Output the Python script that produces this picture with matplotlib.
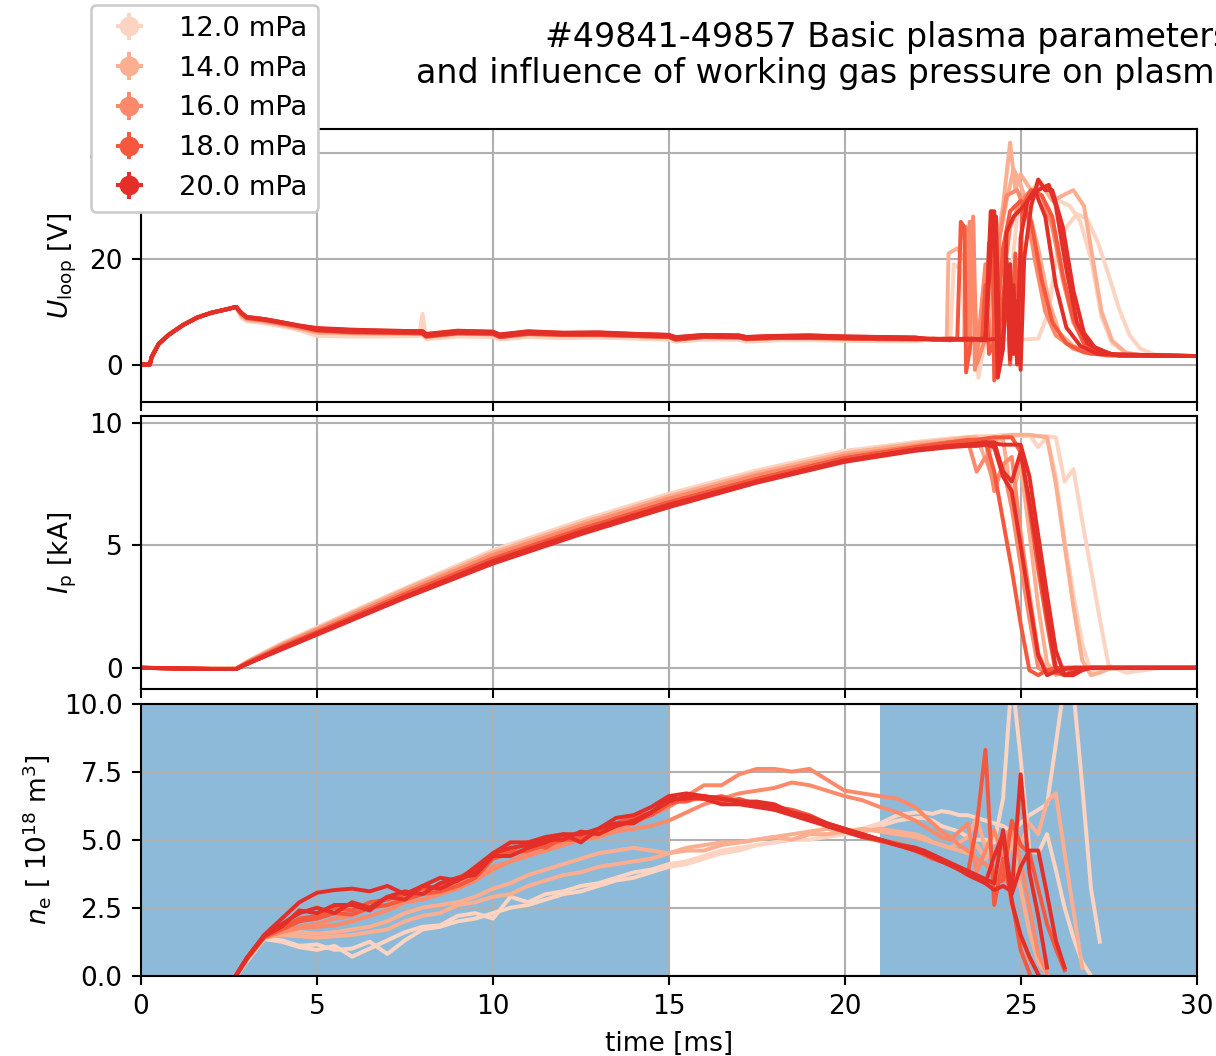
import numpy as np
import matplotlib
matplotlib.use('Agg')
from matplotlib import pyplot as plt

nan = np.nan

# pressure of each plotted shot [mPa]
pressure = [12, 12, 14, 14, 16, 16, 18, 18, 20, 20, 20]
levels = [12.0, 14.0, 16.0, 18.0, 20.0]
level_colors = ['#fdd3c1', '#fcae91', '#fc8a6a', '#f6583e', '#e32f27']

# ---- loop voltage [V] ----
u_t_early = [0.0, 0.25, 0.3, 0.5, 0.8, 1.2, 1.6, 2.0, 2.4, 2.7, 2.85, 3.0, 3.5, 4.0, 4.5, 5.0, 6.0, 7.0,
             7.9, 8.0, 8.1, 9.0, 10.0, 10.2, 11.0, 12.0, 13.0, 14.0, 15.0, 15.2, 16.0, 17.0, 17.2, 18.0,
             19.0, 20.0, 21.0, 22.0]
u_early = [
    [0, 0, 1.4, 3.9, 5.7, 7.5, 8.9, 9.8, 10.4, 10.8, 8.9, 8.2, 7.8, 7.2, 6.5, 5.4, 5.3, 5.3, 5.4, 9.6, 4.8, 5.3, 5.2, 4.7, 5.2, 5.0, 5.1, 4.9, 4.7, 4.3, 4.7, 4.7, 4.3, 4.6, 4.6, 4.5, 4.4, 4.4],
    [0, 0, 1.4, 3.9, 5.7, 7.5, 8.9, 9.8, 10.4, 10.8, 9.0, 8.3, 7.9, 7.3, 6.6, 5.5, 5.4, 5.5, 5.6, 5.5, 4.8, 5.5, 5.3, 4.9, 5.4, 5.1, 5.3, 5.0, 4.8, 4.4, 4.9, 4.7, 4.5, 4.6, 4.8, 4.6, 4.6, 4.5],
    [0, 0, 1.4, 3.9, 5.7, 7.5, 8.9, 9.8, 10.4, 10.9, 9.2, 8.5, 8.1, 7.5, 6.8, 6.0, 5.9, 5.8, 5.8, 5.8, 5.2, 5.8, 5.7, 5.1, 5.7, 5.5, 5.5, 5.4, 5.2, 4.7, 5.2, 5.1, 4.8, 5.0, 5.0, 4.9, 4.8, 4.7],
    [0, 0, 1.4, 3.9, 5.7, 7.5, 8.9, 9.8, 10.4, 10.9, 9.3, 8.6, 8.2, 7.6, 6.9, 6.1, 6.0, 5.9, 5.9, 5.8, 5.2, 5.9, 5.7, 5.2, 5.8, 5.6, 5.6, 5.4, 5.2, 4.7, 5.2, 5.1, 4.8, 5.0, 5.1, 4.9, 4.8, 4.8],
    [0, 0, 1.4, 3.9, 5.7, 7.5, 8.9, 9.8, 10.4, 10.9, 9.5, 8.7, 8.3, 7.7, 7.0, 6.3, 6.0, 6.0, 5.9, 5.9, 5.3, 5.9, 5.8, 5.2, 5.8, 5.6, 5.6, 5.4, 5.2, 4.7, 5.2, 5.1, 4.8, 5.0, 5.0, 4.9, 4.8, 4.8],
    [0, 0, 1.4, 3.9, 5.7, 7.5, 8.9, 9.8, 10.4, 10.9, 9.6, 8.8, 8.4, 7.8, 7.1, 6.4, 6.1, 6.0, 6.0, 5.9, 5.3, 6.0, 5.8, 5.3, 5.9, 5.6, 5.7, 5.5, 5.3, 4.8, 5.3, 5.2, 4.9, 5.1, 5.1, 5.0, 4.9, 4.8],
    [0, 0, 1.4, 3.9, 5.7, 7.5, 8.9, 9.8, 10.4, 10.9, 9.7, 8.8, 8.4, 7.8, 7.2, 6.5, 6.1, 6.0, 5.9, 5.9, 5.3, 5.9, 5.8, 5.2, 5.8, 5.6, 5.6, 5.4, 5.2, 4.7, 5.2, 5.1, 4.8, 5.0, 5.1, 4.9, 4.8, 4.8],
    [0, 0, 1.4, 3.9, 5.7, 7.5, 8.9, 9.8, 10.4, 10.9, 9.7, 8.9, 8.5, 7.9, 7.3, 6.5, 6.2, 6.1, 6.0, 6.0, 5.4, 6.0, 5.9, 5.3, 5.9, 5.7, 5.7, 5.5, 5.3, 4.8, 5.3, 5.2, 4.9, 5.1, 5.1, 5.0, 4.9, 4.8],
    [0, 0, 1.4, 3.9, 5.7, 7.5, 8.9, 9.8, 10.4, 10.9, 9.8, 9.0, 8.6, 8.0, 7.3, 6.8, 6.5, 6.4, 6.3, 6.3, 5.7, 6.3, 6.2, 5.6, 6.2, 6.0, 6.0, 5.8, 5.6, 5.1, 5.6, 5.5, 5.2, 5.4, 5.5, 5.3, 5.2, 5.1],
    [0, 0, 1.4, 3.9, 5.7, 7.5, 8.9, 9.8, 10.4, 10.9, 9.8, 9.0, 8.6, 8.0, 7.4, 6.9, 6.6, 6.4, 6.3, 6.3, 5.8, 6.4, 6.2, 5.7, 6.3, 6.0, 6.1, 5.8, 5.6, 5.2, 5.6, 5.5, 5.2, 5.4, 5.5, 5.3, 5.2, 5.1],
    [0, 0, 1.4, 3.9, 5.7, 7.5, 8.9, 9.8, 10.4, 10.9, 9.7, 8.9, 8.5, 7.9, 7.3, 6.5, 6.2, 6.1, 6.0, 5.9, 5.4, 6.0, 5.9, 5.3, 5.9, 5.7, 5.7, 5.5, 5.3, 4.8, 5.3, 5.2, 4.9, 5.1, 5.1, 5.0, 4.9, 4.8],
]
# end of discharge, each shot on its own time points
u_t_late = [
    [22.5, 23.0, 23.5, 24.0, 24.5, 25.0, 25.5, 25.8, 26.0, 26.3, 26.6, 26.9, 27.2, 27.5, 27.8, 28.1, 28.4, 28.8, 29.5, 30.0],
    [22.5, 23.0, 23.1, 23.3, 23.45, 23.6, 23.8, 24.0, 24.3, 24.6, 24.9, 25.2, 25.5, 25.8, 26.1, 26.4, 26.7, 27.0, 27.3, 27.6, 28.0, 28.5, 30.0],
    [22.5, 23.0, 23.5, 24.0, 24.3, 24.5, 24.7, 24.85, 25.0, 25.3, 25.6, 25.9, 26.2, 26.5, 26.8, 27.0, 27.3, 27.6, 28.0, 28.5, 30.0],
    [22.5, 22.9, 22.95, 23.2, 23.4, 23.5, 23.6, 23.8, 24.0, 24.2, 24.4, 24.6, 24.8, 25.0, 25.2, 25.5, 25.8, 26.1, 26.5, 27.0, 27.5, 30.0],
    [22.5, 23.0, 23.5, 23.55, 23.65, 23.7, 23.8, 24.0, 24.15, 24.3, 24.4, 24.6, 24.9, 25.2, 25.4, 25.7, 26.0, 26.5, 27.0, 30.0],
    [22.5, 23.0, 23.4, 23.45, 23.55, 23.65, 23.75, 24.0, 24.5, 24.55, 24.7, 25.0, 25.3, 25.6, 25.9, 26.2, 26.5, 26.8, 27.2, 27.8, 30.0],
    [22.5, 23.0, 23.2, 23.3, 23.4, 23.45, 23.6, 23.9, 24.0, 24.1, 24.3, 24.5, 24.7, 25.0, 25.3, 25.6, 25.9, 26.3, 26.8, 27.5, 30.0],
    [22.5, 23.0, 23.5, 24.0, 24.1, 24.2, 24.25, 24.35, 24.6, 24.7, 24.85, 24.95, 25.05, 25.3, 25.6, 25.9, 26.2, 26.5, 26.8, 27.2, 27.8, 30.0],
    [22.5, 23.0, 23.5, 24.0, 24.15, 24.25, 24.35, 24.5, 24.6, 24.7, 24.8, 24.9, 25.0, 25.2, 25.5, 25.8, 26.0, 26.3, 26.6, 26.9, 27.3, 27.8, 30.0],
    [22.5, 23.0, 23.5, 24.0, 24.2, 24.3, 24.4, 24.5, 24.6, 24.8, 25.1, 25.4, 25.7, 26.0, 26.3, 26.7, 27.2, 30.0],
    [22.5, 23.0, 23.5, 24.0, 24.5, 24.7, 24.8, 24.9, 25.0, 25.1, 25.3, 25.5, 25.7, 25.9, 26.2, 26.5, 26.8, 27.1, 27.6, 30.0],
]
u_late = [
    [4.8, 4.7, 4.9, 4.6, 4.8, 4.7, 4.9, 10.0, 20.0, 26.0, 28.5, 27.5, 23.0, 17.0, 10.5, 5.5, 3.0, 1.9, 1.6, 1.6],
    [4.9, 4.8, 19.0, 18.0, 4.0, 12.0, -2.5, 5.0, 4.5, 8.0, 28.0, 31.0, 35.0, 33.0, 31.0, 30.0, 27.0, 20.0, 9.0, 4.0, 2.2, 1.7, 1.6],
    [4.7, 5.0, 4.6, 5.0, 22.0, 30.0, 42.0, 33.0, 36.0, 33.0, 34.0, 31.0, 32.0, 33.0, 30.0, 22.0, 10.0, 4.5, 2.2, 1.7, 1.6],
    [4.8, 4.6, 21.0, 22.0, 20.0, 2.0, 19.0, 3.0, 18.0, 20.0, 24.0, 31.0, 37.0, 34.0, 30.0, 22.0, 12.0, 6.0, 3.5, 2.2, 1.8, 1.6],
    [4.8, 4.6, 4.9, 27.0, 27.0, -1.0, 5.0, 19.0, 3.0, 4.5, 24.0, 32.0, 33.0, 28.0, 20.0, 10.0, 5.5, 3.0, 2.0, 1.6],
    [4.9, 4.7, 4.8, 26.0, 2.0, 28.0, 0.0, 5.0, 4.7, 18.0, 26.0, 31.0, 33.0, 32.0, 26.0, 16.0, 8.0, 4.0, 2.4, 1.7, 1.6],
    [4.8, 4.6, 4.8, 27.0, 26.0, -1.5, 5.0, 4.5, 15.0, 2.0, 5.0, 22.0, 29.0, 31.0, 27.0, 16.0, 8.0, 4.0, 2.3, 1.7, 1.6],
    [4.9, 4.8, 4.6, 4.8, 23.0, 24.0, -3.0, 5.0, 18.0, 0.0, 21.0, 3.0, 30.0, 33.0, 32.0, 28.0, 17.0, 8.5, 4.0, 2.3, 1.7, 1.6],
    [4.8, 4.9, 4.7, 4.9, 29.0, 29.0, -2.5, 3.0, 20.0, 1.0, 15.0, 0.0, 24.0, 31.0, 33.0, 34.0, 30.0, 18.0, 8.0, 4.0, 2.4, 1.7, 1.6],
    [4.7, 4.8, 4.9, 4.6, 27.0, 28.0, 1.0, 4.0, 25.0, 28.0, 30.0, 33.0, 28.0, 15.0, 7.0, 3.5, 2.0, 1.6],
    [4.8, 4.7, 4.8, 4.7, 4.9, 19.0, 2.0, 12.0, -1.0, 20.0, 30.0, 35.0, 33.0, 33.0, 26.0, 14.0, 6.0, 3.3, 1.9, 1.6],
]

# ---- plasma current [kA] ----
ip_t = [0.0, 1.0, 2.0, 2.7, 3.0, 4.0, 5.0, 7.5, 10.0, 12.5, 15.0, 17.5, 20.0, 22.0, 23.0, 23.5, 23.75, 24.0,
        24.25, 24.5, 24.75, 25.0, 25.25, 25.5, 25.75, 26.0, 26.25, 26.5, 26.75, 27.0, 27.25, 27.5, 28.0, 29.0, 30.0]
ip = [
    [0, -0.02, -0.04, -0.04, 0.25, 1.0, 1.65, 3.25, 4.8, 6.0, 7.1, 8.05, 8.85, 9.2, 9.35, 9.4, 9.4, 9.45, 9.45, 9.45, 9.45, 9.45, 9.45, 9.45, 9.45, 9.4, 7.6, 8.1, 6.0, 4.0, 2.0, 0.1, -0.2, 0, 0],
    [0, -0.02, -0.04, -0.04, 0.25, 1.0, 1.6, 3.2, 4.75, 5.95, 7.05, 8.0, 8.8, 9.2, 9.35, 9.4, 9.45, 9.45, 9.45, 9.5, 9.5, 9.5, 9.5, 9.0, 9.4, 7.8, 5.2, 3.0, 1.0, -0.2, -0.1, 0, 0, 0, 0],
    [0, -0.02, -0.04, -0.04, 0.22, 0.95, 1.6, 3.2, 4.7, 5.9, 7.0, 7.95, 8.75, 9.15, 9.3, 9.4, 9.4, 8.5, 9.2, 9.45, 9.5, 9.5, 9.5, 9.45, 9.4, 7.5, 5.0, 2.5, 0.3, -0.3, -0.2, -0.05, 0, 0, 0],
    [0, -0.02, -0.04, -0.04, 0.22, 0.95, 1.55, 3.15, 4.65, 5.85, 6.95, 7.9, 8.7, 9.1, 9.25, 9.3, 9.3, 9.35, 9.35, 9.3, 7.0, 8.3, 5.5, 2.5, 0.2, -0.3, -0.1, 0, 0, 0, 0, 0, 0, 0, 0],
    [0, -0.02, -0.04, -0.04, 0.2, 0.92, 1.55, 3.1, 4.6, 5.8, 6.9, 7.85, 8.65, 9.05, 9.2, 9.25, 8.0, 8.6, 7.5, 8.2, 6.5, 4.2, 2.0, 0.0, -0.2, -0.1, 0, 0, 0, 0, 0, 0, 0, 0, 0],
    [0, -0.02, -0.04, -0.04, 0.2, 0.9, 1.5, 3.05, 4.55, 5.75, 6.85, 7.8, 8.6, 9.0, 9.2, 9.25, 9.3, 9.3, 7.2, 8.3, 8.6, 5.5, 3.0, 0.6, -0.2, -0.1, 0, 0, 0, 0, 0, 0, 0, 0, 0],
    [0, -0.02, -0.05, -0.05, 0.18, 0.85, 1.45, 3.0, 4.45, 5.65, 6.75, 7.7, 8.55, 8.95, 9.1, 9.2, 9.25, 9.3, 8.0, 6.0, 4.0, 1.8, -0.1, -0.3, -0.1, 0, 0, 0, 0, 0, 0, 0, 0, 0, 0],
    [0, -0.02, -0.05, -0.05, 0.18, 0.85, 1.45, 3.0, 4.45, 5.65, 6.75, 7.7, 8.55, 9.0, 9.2, 9.3, 9.3, 9.35, 9.4, 9.4, 9.4, 8.8, 6.5, 4.0, 1.8, -0.2, -0.3, -0.1, 0, 0, 0, 0, 0, 0, 0],
    [0, -0.03, -0.05, -0.05, 0.15, 0.8, 1.4, 2.9, 4.35, 5.55, 6.65, 7.6, 8.45, 8.9, 9.05, 9.1, 9.15, 9.2, 9.2, 8.0, 7.6, 8.8, 6.8, 4.5, 2.2, 0.0, -0.3, -0.2, -0.05, 0, 0, 0, 0, 0, 0],
    [0, -0.03, -0.05, -0.05, 0.15, 0.75, 1.35, 2.85, 4.25, 5.45, 6.55, 7.55, 8.4, 8.85, 9.0, 9.05, 9.05, 9.1, 9.0, 7.8, 7.2, 5.0, 2.7, 0.5, -0.3, -0.15, -0.05, 0, 0, 0, 0, 0, 0, 0, 0],
    [0, -0.03, -0.05, -0.05, 0.15, 0.8, 1.4, 2.9, 4.3, 5.5, 6.6, 7.6, 8.45, 8.9, 9.05, 9.1, 9.1, 9.15, 9.15, 9.1, 9.1, 9.1, 7.8, 5.4, 3.0, 0.7, -0.3, -0.3, -0.1, 0, 0, 0, 0, 0, 0],
]

# ---- electron density [1e18 m^-3] ----
ne_t = [2.5, 3.0, 3.5, 4.0, 4.5, 5.0, 5.5, 6.0, 6.5, 7.0, 7.5, 8.0, 8.5, 9.0, 9.5, 10.0, 10.5, 11.0, 11.5, 12.0,
        12.5, 13.0, 13.5, 14.0, 14.5, 15.0, 15.5, 16.0, 16.5, 17.0, 17.5, 18.0, 18.5, 19.0, 19.5, 20.0, 20.5,
        21.0, 21.5, 22.0, 22.25, 22.5, 22.75, 23.0, 23.25, 23.5, 23.75, 24.0, 24.25, 24.5, 24.75, 25.0, 25.25,
        25.5, 25.75, 26.0, 26.25, 26.5, 26.75, 27.0, 27.25, 27.5]
ne_early = [
    [-0.4, 0.5, 1.35, 1.3, 1.1, 1.15, 0.95, 1.0, 1.25, 0.8, 1.3, 1.7, 1.8, 2.0, 2.1, 2.3, 2.5, 2.6, 2.8, 3.0, 3.1, 3.3, 3.5, 3.6, 3.8, 4.0, 4.1, 4.3, 4.5, 4.6, 4.8, 4.9, 5.0, 5.0, 5.1, 5.2, 5.4, 5.6, 5.9, 6.0],
    [-0.4, 0.55, 1.35, 1.25, 1.05, 0.95, 1.1, 0.7, 1.0, 1.3, 1.6, 1.8, 1.85, 2.2, 2.3, 2.1, 2.9, 2.7, 3.0, 3.1, 3.3, 3.4, 3.6, 3.8, 3.9, 4.1, 4.2, 4.4, 4.6, 4.7, 4.8, 4.9, 5.0, 5.2, 5.2, 5.2, 5.3, 5.5, 5.7, 5.8],
    [-0.4, 0.55, 1.4, 1.5, 1.45, 1.4, 1.45, 1.5, 1.6, 1.7, 2.0, 2.2, 2.3, 2.6, 2.7, 2.9, 3.0, 3.3, 3.5, 3.7, 3.8, 4.0, 4.1, 4.2, 4.3, 4.5, 4.6, 4.6, 4.8, 4.9, 5.0, 5.1, 5.2, 5.3, 5.4, 5.3, 5.4, 5.3, 5.2, 5.1],
    [-0.4, 0.6, 1.4, 1.55, 1.6, 1.55, 1.6, 1.7, 1.8, 2.0, 2.3, 2.5, 2.6, 2.7, 2.9, 3.2, 3.4, 3.7, 3.9, 4.1, 4.3, 4.5, 4.6, 4.7, 4.6, 4.5, 4.7, 4.8, 4.9, 4.9, 5.0, 5.1, 5.0, 5.2, 5.2, 5.3, 5.3, 5.4, 5.3, 5.2],
    [-0.4, 0.6, 1.4, 1.65, 1.8, 1.9, 2.1, 2.2, 2.5, 2.6, 2.9, 3.1, 3.2, 3.4, 3.6, 4.0, 4.2, 4.5, 4.6, 4.9, 5.1, 5.2, 5.4, 5.6, 5.9, 6.2, 6.6, 7.0, 7.0, 7.4, 7.6, 7.6, 7.5, 7.6, 7.2, 6.8, 6.7, 6.6, 6.5, 6.2],
    [-0.4, 0.6, 1.4, 1.6, 1.75, 1.8, 1.85, 2.0, 2.2, 2.4, 2.7, 2.8, 3.0, 3.2, 3.5, 3.9, 4.2, 4.4, 4.6, 4.8, 5.0, 5.1, 5.3, 5.4, 5.5, 5.7, 6.0, 6.3, 6.5, 6.7, 6.8, 6.9, 7.1, 7.0, 6.8, 6.6, 6.45, 6.2, 6.0, 5.7],
    [-0.4, 0.62, 1.42, 1.7, 2.0, 2.1, 2.3, 2.25, 2.5, 2.6, 2.8, 3.0, 3.1, 3.3, 3.6, 4.3, 4.5, 4.6, 4.8, 5.0, 5.0, 5.3, 5.5, 5.7, 5.9, 6.3, 6.5, 6.5, 6.6, 6.4, 6.3, 6.1, 6.0, 5.8, 5.5, 5.3, 5.1, 4.95, 4.8, 4.6],
    [-0.4, 0.62, 1.45, 1.75, 2.1, 2.2, 2.5, 2.4, 2.7, 2.8, 3.0, 3.2, 3.3, 3.6, 3.9, 4.4, 4.6, 4.9, 4.7, 5.1, 5.1, 5.4, 5.6, 5.8, 6.0, 6.4, 6.4, 6.6, 6.4, 6.5, 6.3, 6.2, 6.1, 5.9, 5.6, 5.4, 5.2, 5.0, 4.85, 4.7],
    [-0.4, 0.65, 1.5, 2.1, 2.7, 3.05, 3.15, 3.2, 3.1, 3.3, 3.0, 3.3, 3.6, 3.5, 4.0, 4.5, 4.9, 4.9, 5.1, 5.2, 5.2, 5.4, 5.8, 5.9, 6.2, 6.6, 6.7, 6.6, 6.5, 6.4, 6.3, 6.2, 6.0, 5.8, 5.5, 5.35, 5.2, 5.0, 4.8, 4.7],
    [-0.4, 0.63, 1.45, 1.8, 2.4, 2.3, 2.6, 2.6, 2.4, 2.9, 2.8, 3.3, 3.2, 3.5, 3.8, 4.5, 4.7, 4.8, 5.0, 5.0, 5.3, 5.2, 5.5, 5.7, 6.0, 6.4, 6.6, 6.5, 6.3, 6.3, 6.2, 6.1, 5.9, 5.7, 5.5, 5.3, 5.1, 5.0, 4.8, 4.6],
    [-0.4, 0.63, 1.45, 1.9, 2.3, 2.5, 2.3, 2.7, 2.5, 2.9, 3.1, 3.0, 3.4, 3.6, 3.7, 4.4, 4.4, 4.7, 4.9, 5.2, 4.9, 5.4, 5.6, 5.6, 6.0, 6.5, 6.5, 6.6, 6.5, 6.4, 6.4, 6.3, 6.0, 5.85, 5.6, 5.4, 5.2, 5.0, 4.8, 4.7],
]
ne_late = [
    [6.0, 5.95, 6.05, 6.0, 5.9, 5.9, 5.8, 5.7, 5.6, 5.5, 5.3, 5.6, 5.9, 6.1, 6.3, 8.5, 10.8, 10.5, 7.0, 3.2, 1.25, nan],
    [5.8, 5.7, 5.5, 5.4, 5.3, 5.1, 5.0, 5.0, 4.9, 6.5, 11.0, 8.0, 4.6, 4.5, 5.2, 3.9, 2.5, 1.4, 0.5, 0.0, nan, nan],
    [5.0, 4.9, 4.8, 4.7, 4.6, 4.5, 4.8, 4.3, 4.6, 4.4, 5.2, 4.8, 5.6, 5.2, 6.4, 6.7, 4.5, 2.4, 0.3, nan, nan, nan],
    [5.1, 4.9, 4.8, 4.7, 4.9, 5.1, 5.8, 4.7, 4.3, 3.8, 5.0, 3.2, 1.6, 0.5, 0.05, nan, nan, nan, nan, nan, nan, nan],
    [5.9, 5.6, 5.3, 5.1, 4.8, 4.6, 4.3, 4.1, 3.8, 4.8, 5.5, 4.2, 2.5, 0.8, 0.1, nan, nan, nan, nan, nan, nan, nan],
    [5.5, 5.3, 5.1, 5.0, 5.3, 5.6, 3.8, 4.6, 5.35, 4.3, 2.6, 1.4, 0.6, 0.1, nan, nan, nan, nan, nan, nan, nan, nan],
    [4.45, 4.3, 4.2, 4.1, 3.95, 3.75, 5.5, 8.3, 2.6, 4.3, 2.8, 0.95, 0.1, nan, nan, nan, nan, nan, nan, nan, nan, nan],
    [4.55, 4.4, 4.25, 4.1, 3.95, 3.8, 3.6, 3.5, 3.4, 3.5, 5.7, 4.8, 4.5, 3.2, 1.9, 1.0, 0.2, nan, nan, nan, nan, nan],
    [4.55, 4.4, 4.2, 4.1, 3.9, 3.8, 3.6, 3.4, 3.15, 3.3, 3.1, 7.4, 3.8, 2.2, 0.3, nan, nan, nan, nan, nan, nan, nan],
    [4.5, 4.35, 4.2, 4.05, 3.9, 3.7, 3.55, 3.4, 4.4, 5.2, 2.7, 1.5, 0.7, 0.05, nan, nan, nan, nan, nan, nan, nan, nan],
    [4.6, 4.45, 4.3, 4.15, 4.0, 3.85, 3.7, 3.55, 3.4, 5.35, 3.0, 4.0, 4.6, 4.6, 3.0, 1.3, 0.3, nan, nan, nan, nan, nan],
]

# density evaluation windows (blue) [ms]
spans = [(0, 15), (21, 30)]

W, H, DPI = 1216, 1056, 190
fig, axs = plt.subplots(3, 1, sharex=True, figsize=(W / DPI, H / DPI), dpi=DPI)
fig.subplots_adjust(left=0.116, right=0.984, bottom=0.076, top=0.8775, hspace=0.055)

col = dict(zip(levels, level_colors))
lw = 1.5
for i, p in enumerate(pressure):
    c = col[float(p)]
    axs[0].plot(u_t_early + u_t_late[i], u_early[i] + u_late[i], color=c, lw=lw)
    axs[1].plot(ip_t, ip[i], color=c, lw=lw)
    axs[2].plot(ne_t, ne_early[i] + ne_late[i], color=c, lw=lw)

for a, b in spans:
    axs[2].axvspan(a, b, color='C0', alpha=0.5, lw=0)

# legend proxies (errorbar style)
handles = []
for lev, c in zip(levels, level_colors):
    h = axs[0].errorbar([nan], [nan], xerr=[1], yerr=[1], fmt='o', ms=6.5, color=c, label=f'{lev:.1f} mPa')
    handles.append(h)

axs[0].set_ylim(-7, 44.5)
axs[0].set_yticks([0, 20, 40])
axs[1].set_ylim(-0.85, 10.25)
axs[1].set_yticks([0, 5, 10])
axs[2].set_ylim(0, 10)
axs[2].set_yticks([0, 2.5, 5, 7.5, 10])
axs[2].set_xlim(0, 30)

for ax in axs:
    ax.grid(True)

axs[0].set_ylabel(r'$U_\mathrm{loop}$ [V]')
axs[1].set_ylabel(r'$I_\mathrm{p}$ [kA]')
axs[2].set_ylabel(r'$n_\mathrm{e}$ [ $10^{18}$ m$^3$]')
axs[2].set_xlabel('time [ms]')

fig.text(545 / W, 1 - 47 / H, '#49841-49857 Basic plasma parameters', fontsize=12.6, ha='left', va='baseline')
fig.text(416 / W, 1 - 83 / H, 'and influence of working gas pressure on plasma', fontsize=12.6,
         ha='left', va='baseline')

fig.legend(handles=handles, loc='upper left', bbox_to_anchor=(91 / W, 1 - 5 / H), borderaxespad=0,
           fontsize=10.4, labelspacing=0.5, framealpha=1)

fig.savefig('out.png', dpi=DPI)
